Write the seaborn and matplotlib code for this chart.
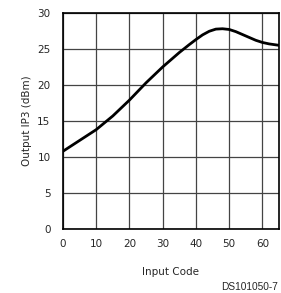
import numpy as np
import pandas as pd
import seaborn as sns
import matplotlib
matplotlib.use("Agg")
import matplotlib.pyplot as plt

# values
input_code = [0, 5, 10, 15, 20, 25, 30, 35, 38, 40, 42, 44, 46, 48, 50, 52, 54, 56, 58, 60, 62, 65]
output_ip3 = [10.8, 12.3, 13.8, 15.7, 17.9, 20.3, 22.5, 24.5, 25.6, 26.3, 26.95, 27.45, 27.75, 27.8,
              27.7, 27.4, 27.0, 26.6, 26.2, 25.9, 25.7, 25.5]
x_ticks = [0, 10, 20, 30, 40, 50, 60]
y_ticks = [0, 5, 10, 15, 20, 25, 30]

sns.set_style("white")
plt.rcParams['font.family'] = ['DejaVu Sans']

df = pd.DataFrame({"code": input_code, "ip3": output_ip3})

fig = plt.figure(figsize=(2.81, 2.93), dpi=100)
ax = fig.add_axes([0.224, 0.218, 0.769, 0.738])
sns.lineplot(data=df, x="code", y="ip3", color="black", linewidth=2.0, ax=ax)

ax.set_xlim(0, 65)
ax.set_ylim(0, 30)
ax.set_xticks(x_ticks)
ax.set_yticks(y_ticks)
ax.grid(True, color="#444444", linewidth=0.9)
ax.set_axisbelow(True)
for s in ax.spines.values():
    s.set_color("black")
    s.set_linewidth(1.2)
ax.tick_params(axis="y", length=0, labelsize=7.5, pad=9)
ax.tick_params(axis="x", length=0, labelsize=7.5, pad=7)
ax.set_xlabel("Input Code", fontsize=7.5, labelpad=13)
ax.set_ylabel("Output IP3 (dBm)", fontsize=7.5, labelpad=4)

fig.text(0.988, 0.005, "DS101050-7", ha="right", va="bottom",
         fontsize=7.3, family="Liberation Sans")

fig.savefig("out.png", dpi=100)
